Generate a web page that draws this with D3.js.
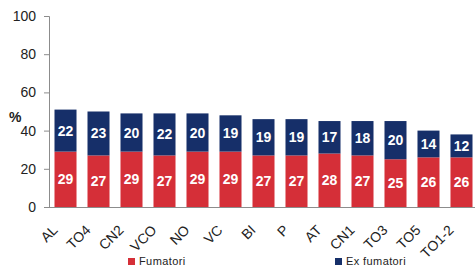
<!DOCTYPE html>
<html><head><meta charset="utf-8">
<script src="https://cdn.jsdelivr.net/npm/d3@7"></script>
<style>body{margin:0;background:#fff}svg{display:block}</style>
</head><body><svg id="c" width="475" height="267"></svg>
<script>
const categories = ["AL","TO4","CN2","VCO","NO","VC","BI","P","AT","CN1","TO3","TO5","TO1-2"];
const fumatori = [29,27,29,27,29,29,27,27,28,27,25,26,26];
const exFumatori = [22,23,20,22,20,19,19,19,17,18,20,14,12];
const yTicks = [0,20,40,60,80,100];
const seriesNames = ["Fumatori","Ex fumatori"];
const colors = ["#d52f38","#162f69"];

const svg = d3.select("#c");
const font = "Liberation Sans, Arial, sans-serif";
const x = d3.scaleBand().domain(categories).range([49,478]).paddingInner(0.333).paddingOuter(0.1667);
const y = d3.scaleLinear().domain([0,100]).range([207,16]);

// y axis
const ya = svg.append("g").attr("transform","translate(49,0)")
  .call(d3.axisLeft(y).tickValues(yTicks).tickSize(5).tickPadding(8));
ya.select(".domain").attr("stroke","#8c8c8c");
ya.selectAll(".tick line").attr("stroke","#8c8c8c");
ya.selectAll("text").attr("font-family",font).attr("font-size",14).attr("fill","#222");
svg.append("text").attr("x",9).attr("y",122).attr("font-family",font).attr("font-size",14).attr("font-weight","bold").attr("fill","#222").text("%");

const data = categories.map((c,i)=>({c, a:fumatori[i], b:exFumatori[i]}));
const g = svg.append("g");
g.selectAll(".r").data(data).join("rect")
  .attr("x",d=>x(d.c)).attr("width",x.bandwidth())
  .attr("y",d=>y(d.a)).attr("height",d=>y(0)-y(d.a)).attr("fill",colors[0]);
g.selectAll(".b").data(data).join("rect")
  .attr("x",d=>x(d.c)).attr("width",x.bandwidth())
  .attr("y",d=>y(d.a+d.b)).attr("height",d=>y(d.a)-y(d.a+d.b)).attr("fill",colors[1]);
g.selectAll(".lr").data(data).join("text")
  .attr("x",d=>x(d.c)+x.bandwidth()/2).attr("y",d=>(y(0)+y(d.a))/2+5)
  .attr("text-anchor","middle").attr("font-family",font).attr("font-size",14).attr("font-weight","bold").attr("fill","#fff")
  .text(d=>d.a);
g.selectAll(".lb").data(data).join("text")
  .attr("x",d=>x(d.c)+x.bandwidth()/2).attr("y",d=>(y(d.a)+y(d.a+d.b))/2+5)
  .attr("text-anchor","middle").attr("font-family",font).attr("font-size",14).attr("font-weight","bold").attr("fill","#fff")
  .text(d=>d.b);

// x axis
const xa = svg.append("g").attr("transform","translate(0,207)")
  .call(d3.axisBottom(x).tickSize(0).tickPadding(0));
xa.select(".domain").attr("d","M49,0.5H475").attr("stroke","#8c8c8c");
xa.selectAll("text").attr("font-family",font).attr("font-size",14).attr("fill","#222")
  .attr("text-anchor","end").attr("dy",null).attr("y",0)
  .attr("transform","translate(-7,24) rotate(-45)");

// legend
const lx = [128,335];
seriesNames.forEach((n,i)=>{
  svg.append("rect").attr("x",lx[i]).attr("y",258).attr("width",7).attr("height",7).attr("fill",colors[i]);
  svg.append("text").attr("x",lx[i]+11).attr("y",265).attr("font-family",font).attr("font-size",11).attr("fill","#222").attr("letter-spacing",0.4).text(n);
});
</script></body></html>
